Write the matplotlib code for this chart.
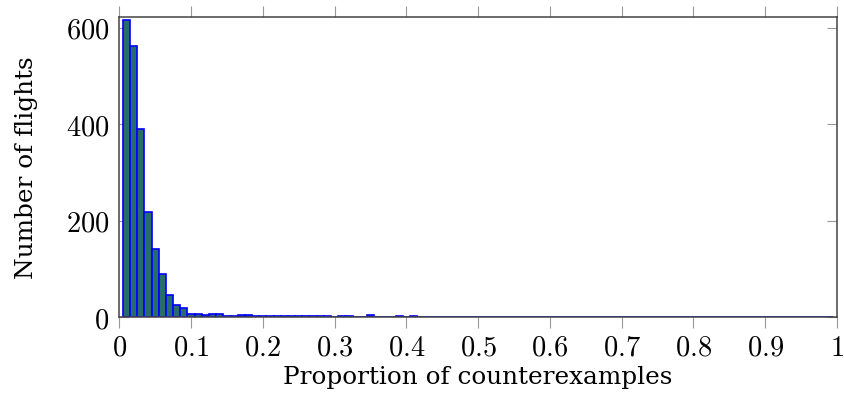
import numpy as np
import matplotlib
matplotlib.use('Agg')
import matplotlib.pyplot as plt

##histogram of counterexample proportion per flight, bins of 0.01
bin_start = 0.005
bin_width = 0.01
counts = [617, 562, 391, 218, 141, 89, 47, 25, 19, 6,
          6, 4, 6, 6, 3, 2, 5, 5, 3, 2,
          3, 3, 2, 2, 2, 2, 3, 3, 3, 1,
          3, 2, 0, 1, 5, 1, 0, 1, 2, 1,
          2, 0, 0, 1, 0, 0, 0, 1, 0, 0,
          0, 0, 0, 0, 0, 0, 0, 0, 1, 0,
          0, 0, 0, 0, 0, 0, 0, 0, 0, 0,
          0, 0, 0, 0, 0, 0, 0, 0, 0, 0,
          0, 0, 0, 0, 1, 0, 0, 0, 0, 0,
          0, 0, 0, 0, 0, 0, 0, 0, 0]

x_ticks = [0, 0.1, 0.2, 0.3, 0.4, 0.5, 0.6, 0.7, 0.8, 0.9, 1]
x_tick_labels = ['0', '0.1', '0.2', '0.3', '0.4', '0.5', '0.6', '0.7', '0.8', '0.9', '1']
y_ticks = [0, 200, 400, 600]
y_tick_labels = ['0', '200', '400', '600']

x_label = 'Proportion of counterexamples'
y_label = 'Number of flights'

plt.rcParams['mathtext.fontset'] = 'cm'

fig = plt.figure(figsize=(8.45, 3.98), dpi=100)
ax = fig.add_axes([0.1412, 0.2028, 0.8493, 0.7537])

left_edges = bin_start + bin_width * np.arange(len(counts))
ax.bar(left_edges, counts, width=bin_width, align='edge',
       color='#276e6a', edgecolor='#0000ff', linewidth=1.2, zorder=3)

ax.set_xlim(0, 1)
ax.set_ylim(0, 622)

ax.set_xticks(x_ticks)
ax.set_xticklabels(['$' + t + '$' for t in x_tick_labels], fontsize=20.5)
ax.set_yticks(y_ticks)
ax.set_yticklabels(['$' + t + '$' for t in y_tick_labels], fontsize=20.5)

#ticks: x outside on both sides, y inside on both sides
ax.tick_params(axis='x', direction='out', length=8, width=0.8, color='#999999',
               top=True, pad=4)
ax.tick_params(axis='y', direction='in', length=7.5, width=0.8, color='#999999',
               right=True, pad=7)

for sp in ax.spines.values():
    sp.set_color('#444444')
    sp.set_linewidth(1.1)
    sp.set_zorder(4)

ax.set_xlabel(x_label, fontsize=17.8, family='DejaVu Serif', labelpad=3)
ax.set_ylabel(y_label, fontsize=17.8, family='DejaVu Serif', labelpad=20)

fig.savefig('out.png', dpi=100)
